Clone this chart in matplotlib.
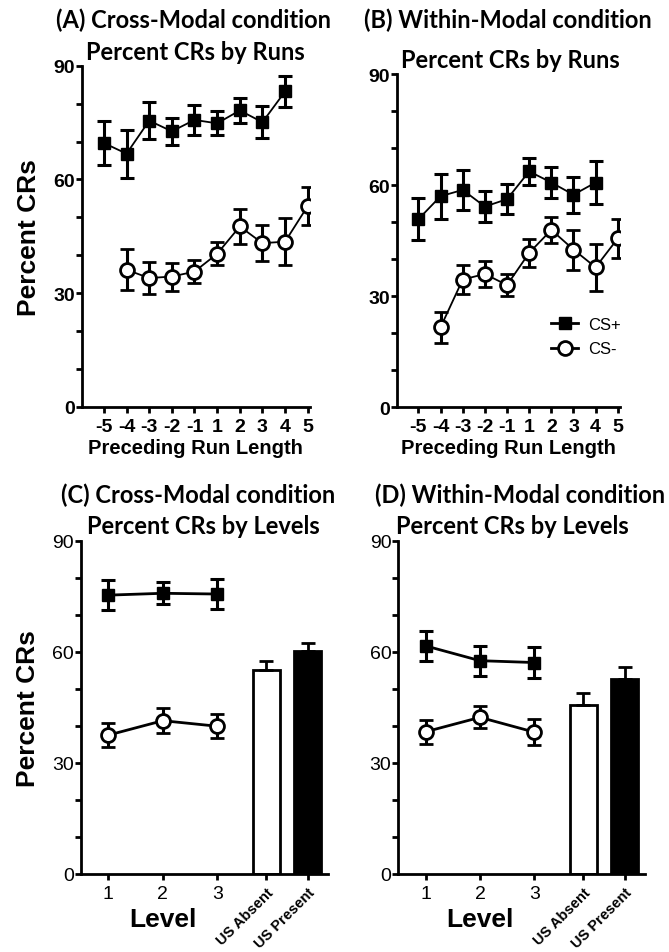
import numpy as np
import matplotlib
matplotlib.use('Agg')
import matplotlib.pyplot as plt
from matplotlib.ticker import MultipleLocator
from matplotlib.lines import Line2D

plt.rcParams['font.family'] = ['Liberation Sans', 'DejaVu Sans']

# run-length panels (A, B)
run_labels = ['-5', '-4', '-3', '-2', '-1', '1', '2', '3', '4', '5']
plus_runs = run_labels[:9]
minus_runs = run_labels[1:]

a_plus = [69.6, 66.8, 75.5, 72.7, 75.7, 74.8, 78.2, 75.1, 83.2]
a_plus_sem = [5.7, 6.3, 4.8, 3.6, 4.0, 3.2, 3.2, 4.2, 4.0]
a_minus = [36.2, 34.0, 34.4, 35.7, 40.4, 47.6, 43.2, 43.6, 53.0]
a_minus_sem = [5.4, 4.2, 3.7, 3.1, 3.0, 4.5, 4.8, 6.2, 5.0]

b_plus = [50.8, 57.0, 58.7, 54.2, 56.2, 63.7, 60.7, 57.4, 60.7]
b_plus_sem = [5.6, 6.1, 5.4, 4.2, 4.0, 3.6, 4.3, 4.8, 5.7]
b_minus = [21.6, 34.5, 36.0, 33.0, 41.7, 47.9, 42.6, 37.8, 45.6]
b_minus_sem = [4.2, 3.8, 3.6, 3.0, 3.7, 3.5, 5.4, 6.3, 5.2]

# level panels (C, D)
levels = ['1', '2', '3']
us_labels = ['US Absent', 'US Present']

c_plus = [75.3, 75.8, 75.6]
c_plus_sem = [4.0, 3.0, 4.0]
c_minus = [37.5, 41.4, 39.9]
c_minus_sem = [3.2, 3.3, 3.2]
c_us = [55.1, 60.1]
c_us_sem = [2.5, 2.2]

d_plus = [61.6, 57.6, 57.1]
d_plus_sem = [4.0, 4.0, 4.2]
d_minus = [38.4, 42.3, 38.3]
d_minus_sem = [3.2, 3.0, 3.6]
d_us = [45.7, 52.6]
d_us_sem = [3.2, 3.2]

W, H = 669, 953
fig = plt.figure(figsize=(W / 100, H / 100), dpi=100)


def px_axes(x0, x1, ytop, ybot):
    return fig.add_axes([x0 / W, 1 - ybot / H, (x1 - x0) / W, (ybot - ytop) / H])


def style(ax, bold_ticks):
    for s in ['top', 'right']:
        ax.spines[s].set_visible(False)
    for s in ['left', 'bottom']:
        ax.spines[s].set_linewidth(2.0)
    ax.set_ylim(0, 90)
    ax.yaxis.set_major_locator(MultipleLocator(30))
    ax.yaxis.set_minor_locator(MultipleLocator(10))
    ax.tick_params(which='both', direction='out', length=4, width=2.0)
    ax.tick_params(axis='y', labelsize=14, pad=1)
    w = 'bold' if bold_ticks else 'normal'
    for lab in ax.get_yticklabels():
        lab.set_fontweight(w)


def run_panel(ax, plus, plus_sem, minus, minus_sem):
    xp = [run_labels.index(r) + 1 for r in plus_runs]
    xm = [run_labels.index(r) + 1 for r in minus_runs]
    ax.errorbar(xp, plus, yerr=plus_sem, color='black', lw=1.3, elinewidth=2.2,
                capsize=5, capthick=2.2, marker='s', ms=9, mfc='black', mec='black')
    ax.errorbar(xm, minus, yerr=minus_sem, color='black', lw=1.3, elinewidth=2.2,
                capsize=5, capthick=2.2, marker='o', ms=10, mfc='white', mec='black',
                mew=2.0)
    ax.set_xlim(0.02, 10.1)
    ax.set_xticks(range(1, 11))
    ax.set_xticklabels(run_labels, fontsize=14, fontweight='bold')
    ax.tick_params(axis='x', pad=4)
    ax.set_xlabel('Preceding Run Length', fontsize=14.5, fontweight='bold')
    ax.xaxis.set_label_coords(0.5, -0.092)
    style(ax, True)


def level_panel(ax, plus, plus_sem, minus, minus_sem, us, us_sem):
    xl = [1, 2, 3]
    xb = [3.9, 4.66]
    ax.errorbar(xl, plus, yerr=plus_sem, color='black', lw=2.0, elinewidth=2.2,
                capsize=5, capthick=2.2, marker='s', ms=9, mfc='black', mec='black')
    ax.errorbar(xl, minus, yerr=minus_sem, color='black', lw=2.0, elinewidth=2.2,
                capsize=5, capthick=2.2, marker='o', ms=10, mfc='white', mec='black',
                mew=2.0)
    ax.bar(xb, us, width=0.5, color=['white', 'black'], edgecolor='black', lw=2.0,
           yerr=[[0, 0], us_sem], error_kw=dict(elinewidth=2.0, capsize=5, capthick=2.0,
                                                ecolor='black'))
    ax.set_xlim(0.5, 5.03)
    ax.set_xticks(xl + xb)
    ax.set_xticklabels(levels + us_labels)
    ax.tick_params(axis='x', pad=4)
    for lab in ax.get_xticklabels()[:3]:
        lab.set_fontsize(14)
    for lab in ax.get_xticklabels()[3:]:
        lab.set_fontsize(10.5)
        lab.set_fontweight('bold')
        lab.set_rotation(45)
        lab.set_ha('right')
        lab.set_rotation_mode('anchor')
    ax.text(2, -0.135, 'Level', transform=ax.get_xaxis_transform(), ha='center',
            va='center', fontsize=19, fontweight='bold')
    style(ax, False)


axA = px_axes(81.7, 310, 66.7, 408)
run_panel(axA, a_plus, a_plus_sem, a_minus, a_minus_sem)
axA.set_ylabel('Percent CRs', fontsize=19, fontweight='bold', labelpad=9)

axB = px_axes(396.7, 620, 75, 408.3)
run_panel(axB, b_plus, b_plus_sem, b_minus, b_minus_sem)
leg_handles = [
    Line2D([], [], color='black', lw=2.0, marker='s', ms=9, mfc='black', mec='black'),
    Line2D([], [], color='black', lw=2.0, marker='o', ms=10, mfc='white', mec='black',
           mew=2.0),
]
axB.legend(leg_handles, ['CS+', 'CS-'], loc='upper left', bbox_to_anchor=(0.625, 0.315),
           frameon=False, fontsize=12, handlelength=1.6, handletextpad=0.6,
           labelspacing=0.55)

axC = px_axes(81, 328, 541.7, 875)
level_panel(axC, c_plus, c_plus_sem, c_minus, c_minus_sem, c_us, c_us_sem)
axC.set_ylabel('Percent CRs', fontsize=19, fontweight='bold', labelpad=9)

axD = px_axes(398.3, 645, 541.7, 875)
level_panel(axD, d_plus, d_plus_sem, d_minus, d_minus_sem, d_us, d_us_sem)

tfont = dict(fontsize=17, fontweight='bold', family=['Lato', 'DejaVu Sans'],
             ha='center', va='center')
titles = [
    (194, 20, '(A) Cross-Modal condition'), (195, 52, 'Percent CRs by Runs'),
    (508, 20, '(B) Within-Modal condition'), (510, 60, 'Percent CRs by Runs'),
    (198, 495, '(C) Cross-Modal condition'), (203, 527, 'Percent CRs by Levels'),
    (520, 495, '(D) Within-Modal condition'), (512, 527, 'Percent CRs by Levels'),
]
for x, y, t in titles:
    fig.text(x / W, 1 - y / H, t, **tfont)

fig.savefig('out.png', dpi=100)
